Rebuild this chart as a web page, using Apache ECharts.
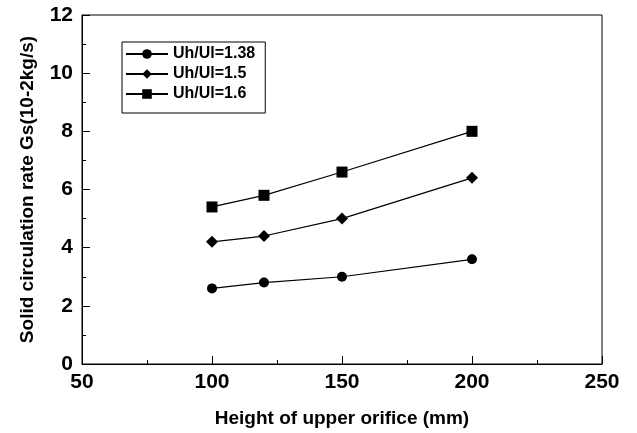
<!DOCTYPE html>
<html><head><meta charset="utf-8">
<script src="https://cdn.jsdelivr.net/npm/echarts@6/dist/echarts.min.js"></script>
<style>html,body{margin:0;padding:0;background:#fff}#c{width:637px;height:433px}</style>
</head><body><div id="c"></div>
<script>
const heights = [100, 120, 150, 200];
const seriesNames = ['Uh/Ul=1.38', 'Uh/Ul=1.5', 'Uh/Ul=1.6'];
const gs138 = [2.6, 2.8, 3.0, 3.6];
const gs15 = [4.2, 4.4, 5.0, 6.4];
const gs16 = [5.4, 5.8, 6.6, 8.0];
const symbols = ['circle', 'diamond', 'rect'];
const sizes = [10, 12, 11];
const values = [gs138, gs15, gs16];
const font = 'Liberation Sans, Arial, sans-serif';
const chart = echarts.init(document.getElementById('c'));
chart.setOption({
  animation: false,
  backgroundColor: '#fff',
  grid: {left: 82, right: 35, top: 15, bottom: 69, show: true, borderColor: '#000', borderWidth: 1},
  legend: {
    orient: 'vertical', left: 122, top: 42, data: seriesNames,
    borderColor: '#000', borderWidth: 1, padding: [4, 10, 11, 3],
    itemWidth: 42, itemHeight: 12, itemGap: 4,
    textStyle: {fontFamily: font, fontWeight: 'bold', fontSize: 16, color: '#000'}
  },
  xAxis: {
    type: 'value', min: 50, max: 250, interval: 50,
    name: 'Height of upper orifice (mm)', nameLocation: 'middle', nameGap: 45,
    nameTextStyle: {fontFamily: font, fontWeight: 'bold', fontSize: 19, color: '#000'},
    axisLine: {lineStyle: {color: '#000'}},
    axisTick: {inside: true, length: 8, lineStyle: {color: '#000'}},
    minorTick: {show: true, splitNumber: 2, length: 4, lineStyle: {color: '#000'}},
    splitLine: {show: false},
    axisLabel: {fontFamily: font, fontWeight: 'bold', fontSize: 21, color: '#000', margin: 8}
  },
  yAxis: {
    type: 'value', min: 0, max: 12, interval: 2,
    name: 'Solid circulation rate Gs(10-2kg/s)', nameLocation: 'middle', nameGap: 45,
    nameTextStyle: {fontFamily: font, fontWeight: 'bold', fontSize: 19, color: '#000'},
    axisLine: {lineStyle: {color: '#000'}},
    axisTick: {inside: true, length: 8, lineStyle: {color: '#000'}},
    minorTick: {show: true, splitNumber: 2, length: 4, lineStyle: {color: '#000'}},
    splitLine: {show: false},
    axisLabel: {fontFamily: font, fontWeight: 'bold', fontSize: 21, color: '#000', margin: 9}
  },
  series: seriesNames.map((n, i) => ({
    name: n, type: 'line',
    data: heights.map((h, j) => [h, values[i][j]]),
    symbol: symbols[i], symbolSize: sizes[i], showSymbol: true,
    lineStyle: {color: '#000', width: 1.2},
    itemStyle: {color: '#000'}
  }))
});
</script></body></html>
